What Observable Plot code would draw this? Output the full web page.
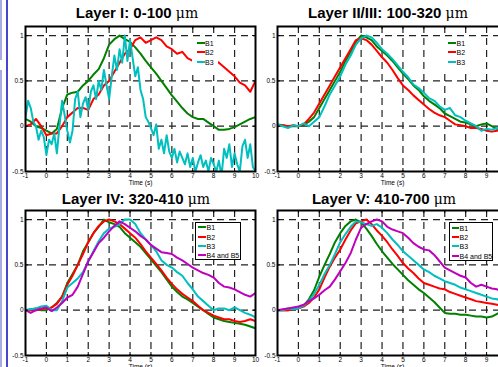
<!DOCTYPE html>
<html><head><meta charset="utf-8">
<script src="https://cdn.jsdelivr.net/npm/d3@7"></script>
<script src="https://cdn.jsdelivr.net/npm/@observablehq/plot@0.6"></script>
<style>
body{margin:0;background:#fff;}
#c{position:relative;width:498px;height:367px;overflow:hidden;background:#fff;font-family:"Liberation Sans",Arial,Helvetica,sans-serif;}
.panel{position:absolute;}
.title{position:absolute;font-weight:bold;font-size:15px;line-height:15px;white-space:nowrap;transform:translateX(-50%);color:#000;}
.title .mu{font-weight:normal;font-family:"DejaVu Serif","Liberation Serif",serif;font-size:14px;}
.leg{position:absolute;background:#fff;box-sizing:border-box;}
.leg.box{border:1px solid #000;}
.li{position:absolute;font-size:7px;line-height:7px;white-space:nowrap;color:#000;transform:translateY(-50%);}
.sw{position:absolute;height:2px;transform:translateY(-50%);}
.edge1{position:absolute;left:6px;top:0;width:2px;height:367px;background:#4646c8;}
.edge2{position:absolute;left:0;width:2px;background:#a9a9e6;}
</style></head>
<body><div id="c"></div>
<script>
// time samples (s)
const t4 = d3.range(-1, 10.0001, 0.25);
const t8 = d3.range(-1, 10.0001, 0.125);
const xTicks = [-1,0,1,2,3,4,5,6,7,8,9,10];
const yTicks = [-0.5,0,0.5,1];
const xGrid = [0,1,2,3,4,5,6,7,8,9];
const yGrid = [0,0.5,1];
const names = ["B1","B2","B3","B4 and B5"];
const colors = ["#008000","#ff0000","#00bfbf","#bf00bf"];
const titles = ["Layer I: 0-100 ","Layer II/III: 100-320 ","Layer IV: 320-410 ","Layer V: 410-700 "];

// Layer I
const L1_B1 = [0.08,0.05,0.0,-0.02, -0.05,-0.08,-0.03,0.2, 0.35,0.37,0.38,0.45, 0.5,0.57,0.63,0.75, 0.9,0.96,1.0,0.96, 0.93,0.87,0.8,0.72, 0.65,0.58,0.5,0.42, 0.34,0.27,0.2,0.14, 0.1,0.08,0.08,0.04, 0.0,-0.04,-0.04,-0.03, -0.01,0.02,0.05,0.08, 0.1];
const L1_B2 = [0.0,0.02,0.08,0.0, -0.1,-0.08,-0.08,0.0, 0.1,0.15,0.2,0.2, 0.18,0.3,0.35,0.45, 0.5,0.6,0.7,0.8, 0.85,0.95,0.98,0.92, 0.95,0.98,0.95,0.88, 0.85,0.8,0.82,0.75, 0.72,0.72,0.74,0.72, 0.73,0.7,0.65,0.6, 0.55,0.48,0.45,0.38, 0.5];
const L1_B3 = [0.10,0.28,0.20,0.05,0.00,-0.15,-0.05,-0.12,
  -0.32,-0.15,-0.20,-0.08,-0.30,0.00,0.28,0.12,
  -0.05,-0.18,-0.05,0.30,0.38,0.10,0.25,0.32,
  0.18,0.38,0.45,0.30,0.50,0.40,0.62,0.45,
  0.30,0.55,0.78,0.62,0.85,0.70,1.00,0.72,
  0.95,0.75,0.55,0.65,0.40,0.30,0.10,0.05,
  -0.02,-0.10,0.02,-0.25,-0.15,-0.30,-0.10,-0.28,
  -0.35,-0.25,-0.40,-0.28,-0.35,-0.42,-0.30,-0.45,
  -0.35,-0.50,-0.40,-0.32,-0.45,-0.38,-0.50,-0.35,
  -0.42,-0.50,-0.38,-0.55,-0.25,-0.35,-0.20,-0.45,
  -0.30,-0.42,-0.50,-0.22,-0.15,-0.35,-0.20,-0.45,
  -0.50];
// Layer II/III
const L2_B1 = [0.02,0.01,0.0,0.0, 0.0,0.01,0.05,0.1, 0.2,0.3,0.4,0.5, 0.6,0.72,0.82,0.93, 1.0,0.98,0.95,0.88, 0.83,0.78,0.72,0.65, 0.58,0.52,0.45,0.4, 0.33,0.28,0.24,0.2, 0.14,0.11,0.08,0.05, 0.04,0.02,0.0,0.02, 0.03,0.0,-0.03,-0.02, -0.03];
const L2_B2 = [0.0,0.01,0.0,0.01, 0.0,0.02,0.08,0.15, 0.25,0.35,0.45,0.55, 0.65,0.75,0.85,0.95, 0.97,0.95,0.9,0.83, 0.76,0.7,0.62,0.53, 0.45,0.4,0.34,0.29, 0.24,0.19,0.15,0.12, 0.1,0.06,0.02,0.01, 0.0,-0.02,-0.02,-0.03, -0.05,-0.06,-0.05,-0.04, -0.05];
const L2_B3 = [0.02,0.0,-0.02,0.01, 0.0,0.03,0.0,0.05, 0.1,0.22,0.35,0.45, 0.55,0.68,0.78,0.9, 0.97,1.0,0.98,0.92, 0.85,0.8,0.74,0.67, 0.6,0.54,0.46,0.42, 0.37,0.31,0.28,0.22, 0.18,0.2,0.12,0.1, 0.06,0.03,0.0,-0.05, -0.03,-0.04,-0.02,-0.04, -0.05];
// Layer IV
const L4_B1 = [0.0,0.01,0.02,0.0, 0.0,0.03,0.08,0.15, 0.3,0.4,0.5,0.65, 0.75,0.85,0.92,1.0, 0.97,0.95,0.92,0.85, 0.8,0.75,0.7,0.63, 0.56,0.49,0.42,0.34, 0.26,0.2,0.15,0.12, 0.08,0.04,0.0,-0.04, -0.08,-0.1,-0.12,-0.13, -0.14,-0.15,-0.16,-0.18, -0.2];
const L4_B2 = [0.0,0.0,0.0,0.01, 0.02,0.03,0.07,0.15, 0.28,0.38,0.5,0.62, 0.75,0.85,0.93,0.98, 1.0,0.98,0.95,0.9, 0.85,0.8,0.73,0.65, 0.58,0.51,0.44,0.36, 0.29,0.23,0.18,0.14, 0.1,0.05,0.0,-0.03, -0.06,-0.08,-0.1,-0.1, -0.12,-0.13,-0.12,-0.1, -0.12];
const L4_B3 = [0.0,0.01,0.02,0.04, 0.05,0.0,0.0,0.1, 0.25,0.3,0.35,0.42, 0.54,0.65,0.76,0.85, 0.9,0.92,0.95,1.0, 1.0,0.95,0.85,0.78, 0.72,0.65,0.55,0.5, 0.47,0.42,0.38,0.3, 0.23,0.15,0.1,0.05, 0.0,0.02,0.02,0.0, 0.03,0.0,-0.03,-0.05, -0.08];
const L4_B45 = [0.0,-0.03,0.0,0.02, 0.03,-0.01,0.03,0.08, 0.14,0.17,0.26,0.4, 0.54,0.64,0.74,0.8, 0.87,0.93,0.98,0.95, 0.91,0.87,0.82,0.78, 0.72,0.68,0.64,0.63, 0.62,0.58,0.55,0.51, 0.47,0.44,0.41,0.39, 0.36,0.3,0.26,0.25, 0.23,0.2,0.17,0.15, 0.19];
// Layer V
const L5_B1 = [0.0,0.0,0.0,0.01, 0.02,0.05,0.12,0.22, 0.37,0.5,0.62,0.75, 0.85,0.93,0.98,1.0, 0.97,0.9,0.82,0.73, 0.65,0.58,0.51,0.45, 0.39,0.33,0.28,0.23, 0.19,0.14,0.09,0.03, -0.03,-0.04,-0.04,-0.05, -0.05,-0.06,-0.07,-0.07, -0.08,-0.07,-0.04,-0.01, 0.02];
const L5_B2 = [0.0,0.0,0.0,0.01, 0.02,0.04,0.08,0.14, 0.23,0.36,0.48,0.58, 0.67,0.78,0.88,0.96, 0.98,1.0,0.95,0.88, 0.82,0.75,0.67,0.6, 0.52,0.46,0.41,0.35, 0.3,0.28,0.26,0.24, 0.23,0.2,0.18,0.16, 0.14,0.12,0.1,0.09, 0.08,0.07,0.06,0.05, 0.05];
const L5_B3 = [0.0,0.0,0.02,0.01, 0.02,0.05,0.1,0.18, 0.28,0.4,0.5,0.62, 0.75,0.84,0.92,0.98, 0.97,0.95,0.93,0.95, 0.91,0.85,0.78,0.72, 0.65,0.6,0.55,0.5, 0.45,0.42,0.38,0.35, 0.32,0.3,0.28,0.25, 0.23,0.21,0.19,0.17, 0.15,0.13,0.12,0.1, 0.1];
const L5_B45 = [0.0,0.01,0.02,0.03, 0.04,0.06,0.1,0.13, 0.17,0.22,0.26,0.34, 0.43,0.52,0.63,0.78, 0.91,0.95,0.98,1.0, 0.98,0.92,0.89,0.87, 0.85,0.8,0.74,0.7, 0.67,0.66,0.61,0.54, 0.47,0.44,0.41,0.38, 0.36,0.3,0.26,0.28, 0.26,0.24,0.23,0.2, 0.19];

const panels = [
  {left:0, top:0, title:titles[0], tx:137, ty:5, series:[[t4,L1_B1],[t4,L1_B2],[t8,L1_B3]],
   legend:{box:false, x:192, y:37, w:26, h:38, sx:196.5, sw:8, tx:205, ys:[43.3,52.3,61.7]}},
  {left:252, top:0, title:titles[1], tx:388, ty:5, series:[[t4,L2_B1],[t4,L2_B2],[t4,L2_B3]],
   legend:{box:false, x:444, y:37, w:26, h:36, sx:448, sw:8, tx:456.5, ys:[43.3,52.3,61.7]}},
  {left:0, top:184, title:titles[2], tx:136, ty:191, series:[[t4,L4_B1],[t4,L4_B2],[t4,L4_B3],[t4,L4_B45]],
   legend:{box:true, x:195, y:222, w:46, h:38, sx:198, sw:7.5, tx:206.5, ys:[227.3,236.7,246,255]}},
  {left:252, top:184, title:titles[3], tx:384, ty:191, series:[[t4,L5_B1],[t4,L5_B2],[t4,L5_B3],[t4,L5_B45]],
   legend:{box:true, x:449, y:222, w:44, h:39, sx:451.5, sw:7.5, tx:459.5, ys:[227.7,237,246.3,255.7]}}
];

const c = document.getElementById("c");
const e1 = document.createElement("div"); e1.className="edge1"; c.appendChild(e1);
[[0,60],[70,297]].forEach(([y,h])=>{const e=document.createElement("div");e.className="edge2";e.style.top=y+"px";e.style.height=h+"px";c.appendChild(e);});

const gridStyle = {stroke:"#222", strokeWidth:1.2, strokeDasharray:"7,5"};

panels.forEach(p => {
  const marks = [
    Plot.ruleX(xGrid, gridStyle),
    Plot.ruleY(yGrid, gridStyle),
    ...p.series.map(([tt, vv], i) => Plot.lineY(vv, {x: tt, stroke: colors[i], strokeWidth: 2, strokeLinejoin:"round", clip: true})),
    Plot.ruleX(xTicks, {y1: -0.5, y2: -0.467, stroke:"#000", strokeWidth:1}),
    Plot.ruleX(xTicks, {y1: 1.1, y2: 1.067, stroke:"#000", strokeWidth:1}),
    Plot.ruleY(yTicks, {x1: -1, x2: -0.86, stroke:"#000", strokeWidth:1}),
    Plot.ruleY(yTicks, {x1: 10, x2: 9.86, stroke:"#000", strokeWidth:1}),
    Plot.frame({stroke:"#000", strokeWidth:2}),
    Plot.axisX(xTicks, {tickSize:0, tickPadding:1.5, tickFormat:d=>String(d), fontSize:6.5, fill:"#000", label:null}),
    Plot.axisY(yTicks, {tickSize:0, tickPadding:2, tickFormat:d=>String(d), fontSize:6.5, fill:"#000", label:null}),
    Plot.text(["Time (s)"], {text:d=>d, frameAnchor:"bottom", lineAnchor:"top", dy:8.5, fontSize:6.5, fill:"#000"})
  ];
  const svg = Plot.plot({
    width:262, height:185, marginLeft:25, marginRight:7, marginTop:26, marginBottom:14,
    x:{domain:[-1,10], label:null}, y:{domain:[-0.5,1.1], label:null},
    style:{fontFamily:'"Liberation Sans",Arial,Helvetica,sans-serif', background:"transparent", color:"#000", overflow:"visible"},
    marks
  });
  svg.classList.add("panel");
  svg.style.left = p.left+"px"; svg.style.top = p.top+"px";
  c.appendChild(svg);

  const t = document.createElement("div");
  t.className="title"; t.style.left=p.tx+"px"; t.style.top=p.ty+"px";
  t.textContent = p.title;
  const mu = document.createElement("span"); mu.className="mu"; mu.textContent="\u03bcm"; t.appendChild(mu);
  c.appendChild(t);

  const L = p.legend;
  const bg = document.createElement("div");
  bg.className = "leg" + (L.box ? " box" : "");
  Object.assign(bg.style, {left:L.x+"px", top:L.y+"px", width:L.w+"px", height:L.h+"px"});
  c.appendChild(bg);
  L.ys.forEach((y, i) => {
    const s = document.createElement("div"); s.className="sw";
    Object.assign(s.style, {left:L.sx+"px", top:y+"px", width:L.sw+"px", background:colors[i]});
    c.appendChild(s);
    const lab = document.createElement("div"); lab.className="li";
    Object.assign(lab.style, {left:L.tx+"px", top:y+"px"});
    lab.textContent = names[i];
    c.appendChild(lab);
  });
});
</script>
</body></html>
